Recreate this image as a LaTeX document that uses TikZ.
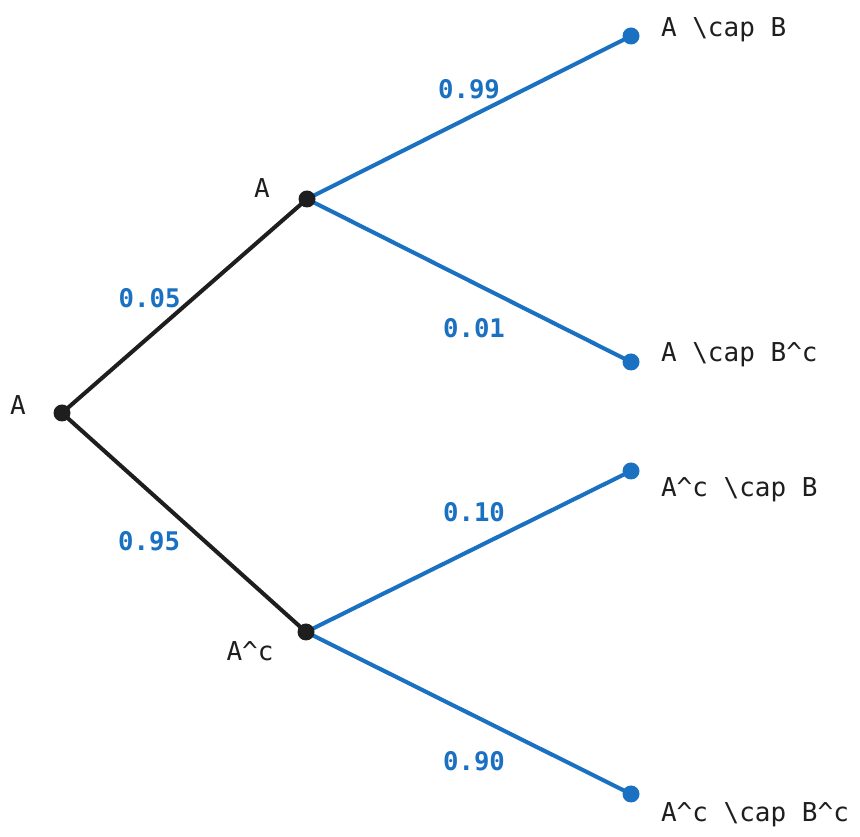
\documentclass[tikz,border=0pt]{standalone}
\usepackage{fontspec}
\setmonofont{DejaVu Sans Mono}
\usepackage{tikz}
\usetikzlibrary{arrows.meta}
\usetikzlibrary{calc}
\definecolor{treeblue}{RGB}{26,112,193}
\definecolor{treeblack}{RGB}{30,30,30}

\begin{document}
\begin{tikzpicture}[line width=2.3pt,
        dot_style/.style={circle,fill=treeblack,inner sep=0pt,minimum size=0.34cm},
        leaf_style/.style={circle,fill=treeblue,inner sep=0pt,minimum size=0.34cm},
        text_style/.style={inner sep=0pt,text=treeblack,font=\ttfamily\fontsize{14.8}{17}\selectfont},
        prob_style/.style={inner sep=0pt,text=treeblue,font=\ttfamily\bfseries\fontsize{14.6}{17}\selectfont},
        edge_style/.style={draw=treeblack},
        leaf_edge_style/.style={draw=treeblue}]

        \useasboundingbox (0,0) rectangle (17.2,16.74);

        \coordinate (c0) at (1.24,8.48);
        \coordinate (c1) at (6.14,12.76);
        \coordinate (c2) at (6.12,4.10);
        \coordinate (c3) at (12.62,16.02);
        \coordinate (c4) at (12.62,9.50);
        \coordinate (c5) at (12.62,7.32);
        \coordinate (c6) at (12.62,0.86);

        \draw [edge_style] (c0) edge node[prob_style,left=0.04cm,yshift=0.16cm]{0.05} (c1);

        \draw [edge_style] (c0) edge node[prob_style,left=0.04cm,yshift=-0.37cm]{0.95} (c2);

        \draw [leaf_edge_style] (c1) edge node[prob_style,above=0.33cm]{0.99} (c3);

        \draw [leaf_edge_style] (c1) edge node[prob_style,below=0.72cm,xshift=0.1cm]{0.01} (c4);

        \draw [leaf_edge_style] (c2) edge node[prob_style,above=0.56cm,xshift=0.11cm]{0.10} (c5);

        \draw [leaf_edge_style] (c2) edge node[prob_style,below=0.72cm,xshift=0.11cm]{0.90} (c6);

        \node [dot_style](n0) at (c0) {};

        \node [dot_style](n1) at (c1) {};

        \node [dot_style](n2) at (c2) {};

        \node [leaf_style](n3) at (c3) {};

        \node [leaf_style](n4) at (c4) {};

        \node [leaf_style](n5) at (c5) {};

        \node [leaf_style](n6) at (c6) {};

        \node [text_style](t0) at (0.36,8.64) {A};

        \node [text_style](t1) at (5.24,12.98) {A};

        \node [text_style](t2) at (5.00,3.72) {A\textasciicircum c};

        \node [text_style,anchor=west](t3) at (13.18,16.14) {A \textbackslash cap B};

        \node [text_style,anchor=west](t4) at (13.18,9.64) {A \textbackslash cap B\textasciicircum c};

        \node [text_style,anchor=west](t5) at (13.18,6.95) {A\textasciicircum c \textbackslash cap B};

        \node [text_style,anchor=west](t6) at (13.18,0.45) {A\textasciicircum c \textbackslash cap B\textasciicircum c};

        \end{tikzpicture}
\end{document}
